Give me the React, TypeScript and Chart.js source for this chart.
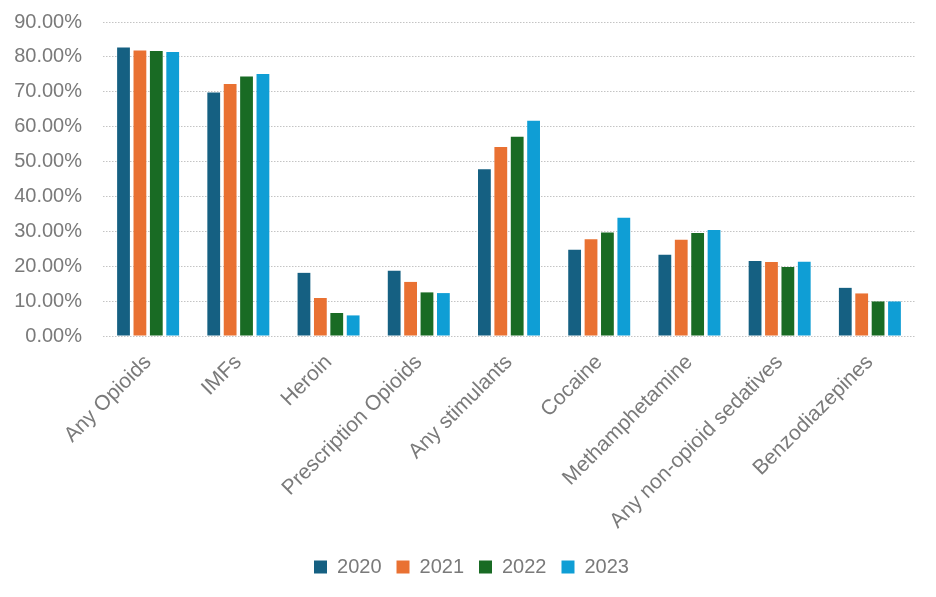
import React, { useEffect, useRef } from "react";
import { Chart, registerables } from "chart.js";

Chart.register(...registerables);

const categories = [
  "Any Opioids",
  "IMFs",
  "Heroin",
  "Prescription Opioids",
  "Any stimulants",
  "Cocaine",
  "Methamphetamine",
  "Any non-opioid sedatives",
  "Benzodiazepines",
];

const seriesNames = ["2020", "2021", "2022", "2023"];
const values2020 = [82.7, 69.8, 18.1, 18.7, 47.8, 24.7, 23.3, 21.5, 13.8];
const values2021 = [81.8, 72.2, 10.9, 15.5, 54.2, 27.7, 27.6, 21.2, 12.2];
const values2022 = [81.7, 74.4, 6.6, 12.5, 57.1, 29.7, 29.5, 19.8, 9.9];
const values2023 = [81.4, 75.1, 5.9, 12.3, 61.7, 33.9, 30.4, 21.3, 9.9];
const seriesColors = ["#156082", "#E97132", "#196B24", "#0F9ED5"];
const yTickMax = 90;
const yTickStep = 10;

const FONT = "'Liberation Sans', Arial, sans-serif";
const TEXT = "#7a7a7a";
const PAD_BOTTOM = 10;

const legendShift = {
  id: "legendShift",
  afterLayout(chart: any) {
    const lg = chart.legend;
    if (!lg) return;
    lg.left += 14;
    lg.right += 14;
    if (lg.legendHitBoxes) {
      lg.legendHitBoxes.forEach((b: any) => (b.left += 14));
    }
  },
};

export default function App() {
  const ref = useRef<HTMLCanvasElement | null>(null);
  useEffect(() => {
    document.body.style.margin = "0";
    const allValues = [values2020, values2021, values2022, values2023];
    const chart = new Chart(ref.current as HTMLCanvasElement, {
      type: "bar",
      data: {
        labels: categories,
        datasets: seriesNames.map((name, i) => ({
          label: name,
          data: allValues[i],
          backgroundColor: seriesColors[i],
          borderWidth: 0,
          categoryPercentage: 0.727,
          barPercentage: 0.78,
        })),
      },
      plugins: [legendShift],
      options: {
        animation: false,
        responsive: false,
        maintainAspectRatio: false,
        layout: { padding: { top: 22, right: 21, left: 0, bottom: PAD_BOTTOM } },
        plugins: {
          tooltip: { enabled: false },
          legend: {
            position: "bottom",
            labels: {
              boxWidth: 13,
              boxHeight: 13,
              padding: 15,
              color: TEXT,
              font: { family: FONT, size: 20 },
            },
          },
        },
        scales: {
          x: {
            grid: { display: false, drawTicks: false },
            border: { display: false },
            ticks: {
              color: TEXT,
              font: { family: FONT, size: 21 },
              minRotation: 45,
              maxRotation: 45,
              padding: 14,
              autoSkip: false,
            },
            afterFit: (scale: any) => {
              const legendH = scale.chart.legend ? scale.chart.legend.height : 40;
              scale.height = scale.chart.height - PAD_BOTTOM - legendH - 336;
            },
          },
          y: {
            min: 0,
            max: yTickMax,
            grid: {
              color: "#c4c4c4",
              lineWidth: 1,
              drawTicks: true,
              tickLength: 21,
              tickColor: "rgba(0,0,0,0)",
            },
            border: { display: false, dash: [1.5, 1.5] },
            ticks: {
              stepSize: yTickStep,
              color: TEXT,
              font: { family: FONT, size: 20 },
              padding: 0,
              callback: (v: any) => Number(v).toFixed(2) + "%",
            },
            afterFit: (scale: any) => {
              scale.width = 103;
            },
          },
        },
      },
    });
    return () => chart.destroy();
  }, []);
  return (
    <div style={{ position: "absolute", left: 0, top: 0, width: 936, height: 597, background: "#fff" }}>
      <canvas ref={ref} width={936} height={597} style={{ width: 936, height: 597 }} />
    </div>
  );
}
